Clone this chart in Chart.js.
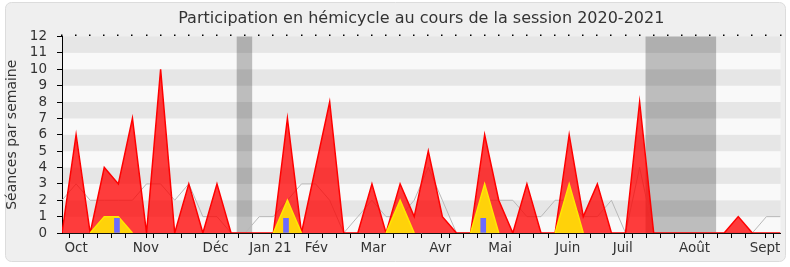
<!DOCTYPE html>
<html>
<head>
<meta charset="utf-8">
<script src="https://cdn.jsdelivr.net/npm/chart.js@4.4.1/dist/chart.umd.min.js"></script>
<style>
  html, body { margin: 0; padding: 0; background: #fff; }
</style>
</head>
<body>
<canvas id="myChart" width="790" height="267"></canvas>
<script>
// weeks of the session (index 0 = first week)
const weeks = [];
for (let i = 0; i < 52; i++) weeks.push(i);

// red : séances with presence
const presences = [0, 6, 0, 4, 3, 7, 0, 10, 0, 3, 0, 3, 0, 0, 0, 0, 7, 0, 4, 8,
  0, 0, 3, 0, 3, 1, 5, 1, 0, 0, 6, 2, 0, 3, 0, 0, 6, 1, 3, 0,
  0, 8, 0, 0, 0, 0, 0, 0, 1, 0, 0, 0];
// yellow : interventions
const interventions = [0, 0, 0, 1, 1, 0, 0, 0, 0, 0, 0, 0, 0, 0, 0, 0, 2, 0, 0, 0,
  0, 0, 0, 0, 2, 0, 0, 0, 0, 0, 3, 0, 0, 0, 0, 0, 3, 0, 0, 0,
  0, 0, 0, 0, 0, 0, 0, 0, 0, 0, 0, 0];
// grey : median of deputies
const mediane = [2, 3, 2, 2, 2, 2, 3, 3, 2, 3, 1, 1, 0, 0, 1, 1, 2, 3, 3, 2,
  0, 1, 2, 1, 1, 2, 4, 2, 0, 0, 2, 2, 2, 1, 1, 2, 2, 1, 1, 2,
  0, 4, 0, 0, 0, 0, 0, 0, 0, 0, 1, 1];
// blue : questions
const questionWeeks = [3.9, 15.9, 29.9];
const questionValues = [0.9, 0.9, 0.9];

// vacances (week positions)
const vacStart = [12.4, 41.42];
const vacEnd = [13.5, 46.43];

// month labels
const monthPos = [1, 5.95, 10.9, 14.8, 18.05, 22.1, 26.85, 31.1, 35.9, 39.8, 44.9, 49.9];
const monthNames = ['Oct', 'Nov', 'Déc', 'Jan 21', 'Fév', 'Mar', 'Avr', 'Mai', 'Juin', 'Juil', 'Août', 'Sept'];

const FONT = 'DejaVu Sans';

const bgPlugin = {
  id: 'bg',
  beforeDraw(chart) {
    const c = chart.ctx;
    const a = chart.chartArea;
    const y = chart.scales.y;
    const x = chart.scales.x;
    c.save();
    c.fillStyle = '#fff';
    c.fillRect(0, 0, chart.width, chart.height);
    // outer box
    c.beginPath();
    c.roundRect(5.5, 2.5, 780, 259, 6);
    c.fillStyle = '#efefef';
    c.fill();
    c.strokeStyle = '#dcdcdc';
    c.lineWidth = 1;
    c.stroke();
    // stripes
    for (let n = 0; n < 12; n++) {
      const top = y.getPixelForValue(n + 1);
      const bot = y.getPixelForValue(n);
      c.fillStyle = (n % 2 === 1) ? '#e6e6e6' : '#f9f9f9';
      c.fillRect(a.left, top, a.right - a.left, bot - top);
    }
    // vacances
    c.fillStyle = 'rgba(0,0,0,0.24)';
    for (let i = 0; i < vacStart.length; i++) {
      const x0 = x.getPixelForValue(vacStart[i]);
      const x1 = x.getPixelForValue(vacEnd[i]);
      c.fillRect(x0, a.top, x1 - x0, a.bottom - a.top);
    }
    c.restore();
  },
  afterDraw(chart) {
    // little dots on top edge, one per week
    const c = chart.ctx;
    const a = chart.chartArea;
    const x = chart.scales.x;
    c.save();
    c.fillStyle = '#000';
    for (const w of weeks) {
      c.fillRect(Math.round(x.getPixelForValue(w)) - 1, a.top - 2, 1.5, 1.5);
    }
    c.restore();
  }
};

const zeroSeg = ctx => (ctx.p0.parsed.y === 0 && ctx.p1.parsed.y === 0) ? 'rgba(0,0,0,0)' : undefined;

const data = {
  datasets: [{
    type: 'bar',
    label: 'Questions',
    data: questionWeeks.map((w, i) => ({ x: w, y: questionValues[i] })),
    backgroundColor: '#6b6bff',
    barThickness: 5,
    order: 1
  }, {
    type: 'line',
    label: 'Interventions',
    data: weeks.map((w, i) => ({ x: w, y: interventions[i] })),
    borderColor: '#ffe800',
    borderWidth: 1.5,
    backgroundColor: 'rgb(255,210,10)',
    fill: 'origin',
    pointRadius: 0,
    tension: 0,
    segment: { borderColor: zeroSeg },
    order: 2
  }, {
    type: 'line',
    label: 'Présences',
    data: weeks.map((w, i) => ({ x: w, y: presences[i] })),
    borderColor: '#ff0000',
    borderWidth: 1.5,
    backgroundColor: 'rgba(255,0,0,0.76)',
    fill: 'origin',
    pointRadius: 0,
    tension: 0,
    order: 3
  }, {
    type: 'line',
    label: 'Médiane',
    data: weeks.map((w, i) => ({ x: w, y: mediane[i] })),
    borderColor: '#b8b8b8',
    borderWidth: 1,
    fill: false,
    pointRadius: 0,
    tension: 0,
    order: 4
  }]
};

const config = {
  type: 'line',
  data: data,
  plugins: [bgPlugin],
  options: {
    responsive: false,
    animation: false,
    layout: { padding: { left: 0, right: 9.5, top: 0, bottom: 0 } },
    plugins: {
      legend: { display: false },
      tooltip: { enabled: false },
      title: {
        display: true,
        fullSize: false,
        text: 'Participation en hémicycle au cours de la session 2020-2021',
        color: '#333',
        font: { family: FONT, size: 16, weight: 'normal' },
        padding: { top: 9, bottom: 8.3 }
      }
    },
    scales: {
      x: {
        type: 'linear',
        min: 0,
        max: 51,
        offset: false,
        z: 1,
        afterBuildTicks(axis) {
          const t = weeks.map(v => ({ value: v }));
          monthPos.forEach(v => {
            const w = t.find(p => p.value === v);
            if (w) w.month = true; else t.push({ value: v, month: true });
          });
          t.sort((p, q) => p.value - q.value);
          axis.ticks = t;
        },
        afterFit(scale) { scale.height = 34; scale.paddingLeft = 0; scale.paddingRight = 0; },
        ticks: {
          autoSkip: false,
          maxRotation: 0,
          padding: 2,
          color: '#333',
          font: { family: FONT, size: 13.5 },
          callback: function (v, i, ticks) {
            return ticks[i].month ? monthNames[monthPos.indexOf(v)] : '';
          }
        },
        grid: {
          drawOnChartArea: false,
          tickLength: 5,
          color: ctx => (ctx.tick && ctx.tick.month && !weeks.includes(ctx.tick.value)) ? 'rgba(0,0,0,0)' : '#000'
        },
        border: { color: '#111', width: 1 }
      },
      y: {
        min: 0,
        max: 12,
        afterFit(scale) { scale.width = 62; },
        ticks: {
          stepSize: 1,
          autoSkip: false,
          padding: 10,
          color: '#333',
          font: { family: FONT, size: 13.5 }
        },
        grid: { drawOnChartArea: false, tickLength: 5, color: '#000' },
        border: { color: '#000', width: 1 },
        title: {
          display: true,
          text: 'Séances par semaine',
          color: '#333',
          font: { family: FONT, size: 14 },
          padding: { top: 4, bottom: 0 }
        }
      }
    }
  }
};

const myChart = new Chart(document.getElementById('myChart').getContext('2d'), config);
</script>
</body>
</html>
